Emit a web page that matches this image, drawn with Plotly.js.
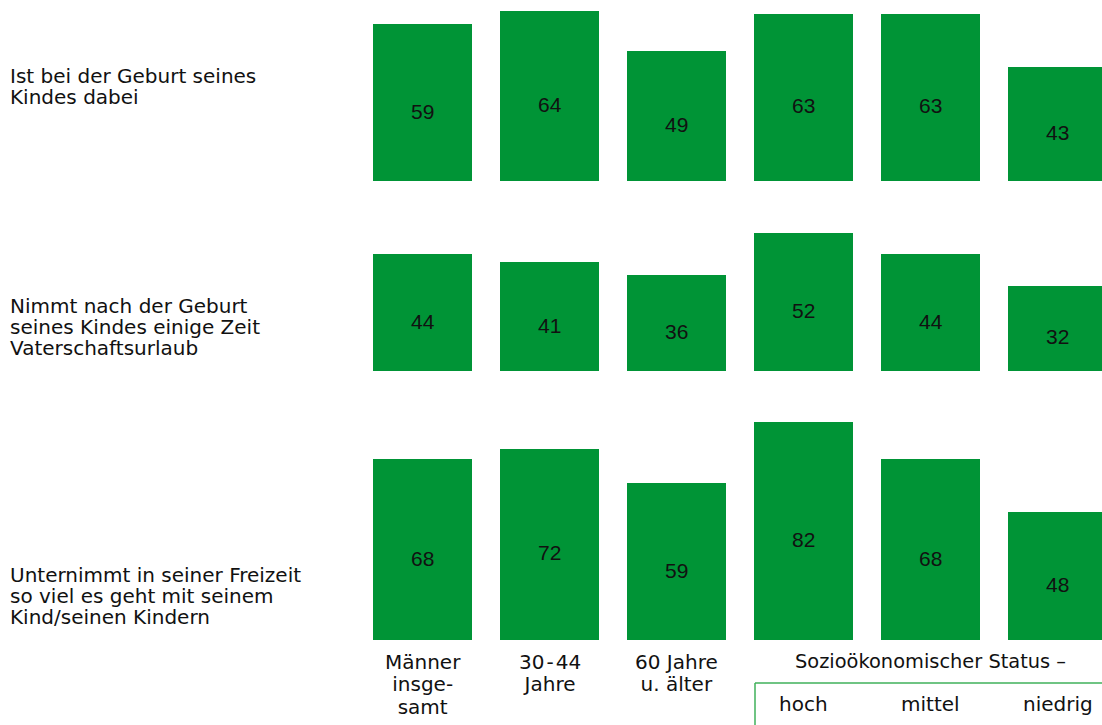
<!DOCTYPE html>
<html>
<head>
<meta charset="utf-8">
<script src="https://cdn.plot.ly/plotly-3.0.1.min.js"></script>
<style>html,body{margin:0;padding:0;background:#fff;}#chart{width:1102px;height:725px;}</style>
</head>
<body>
<div id="chart"></div>
<script>
// ---- data ----
const groups = ['Männer insgesamt', '30-44 Jahre', '60 Jahre u. älter', 'hoch', 'mittel', 'niedrig'];
const groupTickLines = [
  ['Männer', 'insge-', 'samt'],
  ['30\u200A-\u200A44', 'Jahre'],
  ['60 Jahre', 'u. älter'],
  ['hoch'],
  ['mittel'],
  ['niedrig']
];
const statusHeader = 'Sozioökonomischer Status –';
const rowLabels = [
  ['Ist bei der Geburt seines', 'Kindes dabei'],
  ['Nimmt nach der Geburt', 'seines Kindes einige Zeit', 'Vaterschaftsurlaub'],
  ['Unternimmt in seiner Freizeit', 'so viel es geht mit seinem', 'Kind/seinen Kindern']
];
const birthPresent = [59, 64, 49, 63, 63, 43];
const paternityLeave = [44, 41, 36, 52, 44, 32];
const leisureTime = [68, 72, 59, 82, 68, 48];
const series = [birthPresent, paternityLeave, leisureTime];

// ---- layout helpers ----
const W = 1102, H = 725;
const M = {l: 359, r: 0, t: 0, b: 85};
const PW = W - M.l - M.r, PH = H - M.t - M.b;
const px2x = p => (p - M.l) / PW;
const py2y = p => (PH + M.t - p) / PH;
const FONT = 'DejaVu Sans, Liberation Sans, Arial, sans-serif';
const NUMFONT = 'Liberation Sans, Arial, Helvetica, sans-serif';
const GREEN = '#009436';
const xs = groups.map((g, i) => i);

// multi-line text with tight line spacing: line spacing = 1.3 * base size,
// glyphs drawn at glyph size via inline span
const tight = (lines, glyph) => lines.map(t => '<span style="font-size:' + glyph + 'px">' + t + '</span>').join('<br>');

const yAxes = ['y', 'y2', 'y3'];
const traces = series.map((vals, r) => ({
  type: 'bar',
  x: xs,
  y: vals,
  xaxis: 'x',
  yaxis: yAxes[r],
  width: 0.78,
  marker: {color: GREEN, line: {width: 0}},
  hoverinfo: 'skip',
  showlegend: false
}));

const annotations = [];
// value labels inside bars
series.forEach((vals, r) => {
  vals.forEach((v, i) => {
    annotations.push({
      x: i, y: v / 2, xref: 'x', yref: yAxes[r],
      text: String(v), showarrow: false, yshift: -8.5,
      font: {family: NUMFONT, size: 21, color: '#111'}
    });
  });
});
// row labels on the left
const rowCenterY = [86, 326.5, 596];
rowLabels.forEach((lines, r) => {
  annotations.push({
    x: px2x(8), y: py2y(rowCenterY[r]), xref: 'paper', yref: 'paper',
    xanchor: 'left', yanchor: 'middle', align: 'left',
    text: tight(lines, 20), showarrow: false,
    font: {family: FONT, size: 16, color: '#111'}
  });
});
// category labels below
groupTickLines.forEach((lines, i) => {
  annotations.push({
    x: i, y: py2y(i >= 3 ? 690 : 648), xref: 'x', yref: 'paper',
    xanchor: 'center', yanchor: 'top', align: 'center',
    text: tight(lines, 20), showarrow: false,
    font: {family: FONT, size: 17.3, color: '#111'}
  });
});
annotations.push({
  x: 4, y: py2y(661.5), xref: 'x', yref: 'paper',
  xanchor: 'center', yanchor: 'middle', text: statusHeader, showarrow: false,
  font: {family: FONT, size: 19.4, color: '#111'}
});

const SCALE = 2.657; // px per unit
const rowBase = [181, 371, 640];
const rowTop = [0, 192, 396.8];
const yax = (r) => ({
  domain: [py2y(rowBase[r]), py2y(rowTop[r])],
  range: [0, (rowBase[r] - rowTop[r]) / SCALE],
  anchor: 'x',
  visible: false,
  fixedrange: true
});

const layout = {
  width: W, height: H,
  margin: M,
  paper_bgcolor: '#fff',
  plot_bgcolor: '#fff',
  showlegend: false,
  bargap: 0,
  xaxis: {range: [-0.5, -0.5 + PW / 127], visible: false, fixedrange: true, anchor: 'y3'},
  yaxis: yax(0),
  yaxis2: yax(1),
  yaxis3: yax(2),
  annotations: annotations,
  shapes: [
    {type: 'line', xref: 'paper', yref: 'paper', x0: px2x(755), x1: px2x(755), y0: py2y(683), y1: py2y(725),
     line: {color: '#3fb05a', width: 1.5}},
    {type: 'line', xref: 'paper', yref: 'paper', x0: px2x(755), x1: 1, y0: py2y(683), y1: py2y(683),
     line: {color: '#3fb05a', width: 1.5}}
  ]
};

Plotly.newPlot('chart', traces, layout, {displayModeBar: false, staticPlot: true});
</script>
</body>
</html>
